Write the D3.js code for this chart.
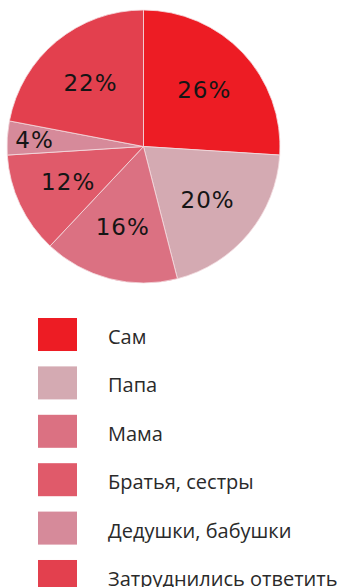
<!DOCTYPE html>
<html>
<head>
<meta charset="utf-8">
<script src="https://cdn.jsdelivr.net/npm/d3@7"></script>
<style>
  html, body { margin: 0; padding: 0; background: #fff; }
  svg { display: block; }
</style>
</head>
<body>
<svg id="chart" width="337" height="587"></svg>
<script>
// Кто помогает с выбором: доли ответов
const categories = ["Сам", "Папа", "Мама", "Братья, сестры", "Дедушки, бабушки", "Затруднились ответить"];
const values = [26, 20, 16, 12, 4, 22];
const colors = ["#ED1C24", "#D4AAB2", "#DB7182", "#E05A6A", "#D68A9A", "#E3404E"];

const svg = d3.select("#chart");

// --- pie ---
const cx = 143.5, cy = 146.5, radius = 136.5;
const pie = d3.pie().sort(null).value(d => d.value);
const arcs = pie(categories.map((c, i) => ({ name: c, value: values[i], color: colors[i] })));

const arc = d3.arc().innerRadius(0).outerRadius(radius);
const g = svg.append("g").attr("transform", `translate(${cx},${cy})`);

g.selectAll("path.slice")
  .data(arcs)
  .join("path")
  .attr("class", "slice")
  .attr("d", arc)
  .attr("fill", d => d.data.color)
  .attr("stroke", "#f4dde1")
  .attr("stroke-width", 0.8);

// value labels sit near the slice centroid; narrow slices push outwards
const labelPos = d => {
  const k = d.data.value < 6 ? 0.8 : 0.61;
  return d3.arc().innerRadius(radius * k).outerRadius(radius * k).centroid(d);
};

g.selectAll("text.val")
  .data(arcs)
  .join("text")
  .attr("class", "val")
  .attr("x", d => labelPos(d)[0])
  .attr("y", d => labelPos(d)[1])
  .attr("dy", "0.36em")
  .attr("text-anchor", "middle")
  .attr("font-family", "'DejaVu Sans', sans-serif")
  .attr("font-size", 23)
  .attr("letter-spacing", 1)
  .attr("fill", "#151515")
  .text(d => d.data.value + "%");

// --- legend ---
const legendY = d3.scaleBand()
  .domain(categories)
  .range([318, 593])
  .paddingInner(0.318)
  .paddingOuter(0);

const rows = svg.append("g")
  .selectAll("g.row")
  .data(categories)
  .join("g")
  .attr("class", "row")
  .attr("transform", d => `translate(0,${legendY(d)})`);

rows.append("rect")
  .attr("x", 38)
  .attr("width", 39)
  .attr("height", legendY.bandwidth())
  .attr("fill", (d, i) => colors[i]);

rows.append("text")
  .attr("x", 108)
  .attr("y", 26)
  .attr("font-family", "'Open Sans', sans-serif")
  .attr("font-size", 20)
  .attr("fill", "#2a2a2a")
  .text(d => d);
</script>
</body>
</html>
